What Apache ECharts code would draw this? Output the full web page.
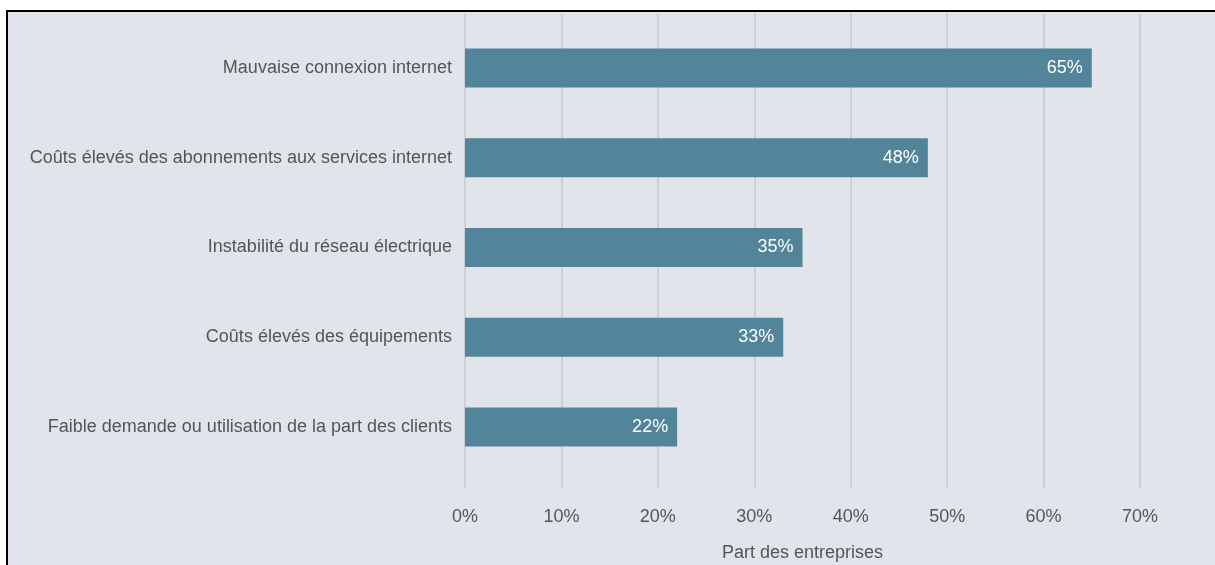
<!DOCTYPE html>
<html>
<head>
<meta charset="utf-8">
<script src="https://cdn.jsdelivr.net/npm/echarts@6/dist/echarts.min.js"></script>
<style>
html,body{margin:0;padding:0;background:#ffffff;}
#chart{width:1215px;height:565px;}
</style>
</head>
<body>
<div id="chart"></div>
<script>
const categories = [
  "Mauvaise connexion internet",
  "Coûts élevés des abonnements aux services internet",
  "Instabilité du réseau électrique",
  "Coûts élevés des équipements",
  "Faible demande ou utilisation de la part des clients"
];
const values = [65, 48, 35, 33, 22];
const axisName = "Part des entreprises";
const axisMin = 0, axisMax = 70, axisStep = 10;

const FONT = "'Liberation Sans Narrow', 'Arial Narrow', 'Liberation Sans', sans-serif";
const chart = echarts.init(document.getElementById('chart'), null, {renderer:'canvas'});
chart.setOption({
  animation:false,
  graphic:[{
    type:'rect', z:-10, silent:true,
    shape:{x:7, y:11, width:1230, height:580},
    style:{fill:'#e1e4eb', stroke:'#000', lineWidth:2}
  }],
  grid:[
    {left:465, right:75, top:23, bottom:93, containLabel:false, outerBoundsMode:'none'},
    {left:465, right:75, top:14, bottom:77, containLabel:false, outerBoundsMode:'none'}
  ],
  xAxis:[
    {gridIndex:0, type:'value', min:axisMin, max:axisMax, interval:axisStep, show:false},
    {gridIndex:1, type:'value', min:axisMin, max:axisMax, interval:axisStep,
     axisLine:{show:false}, axisTick:{show:false},
     splitLine:{show:true, lineStyle:{color:'#c5c9d1', width:1.5}},
     axisLabel:{formatter:'{value}%', color:'#555', fontFamily:FONT, fontSize:18, margin:20},
     name:axisName, nameLocation:'middle', nameGap:56,
     nameTextStyle:{color:'#555', fontFamily:FONT, fontSize:18}}
  ],
  yAxis:[
    {gridIndex:0, type:'category', data:categories, inverse:true,
     axisLine:{show:false}, axisTick:{show:false}, splitLine:{show:false},
     axisLabel:{color:'#555', fontFamily:FONT, fontSize:18, margin:13}},
    {gridIndex:1, type:'value', show:false}
  ],
  series:[{
    type:'bar', xAxisIndex:0, yAxisIndex:0, data:values, barWidth:39,
    itemStyle:{color:'#52849a'},
    label:{show:true, position:'insideRight', offset:[-4,0], formatter:'{c}%', color:'#fff', fontFamily:FONT, fontSize:18}
  }]
});
</script>
</body>
</html>
